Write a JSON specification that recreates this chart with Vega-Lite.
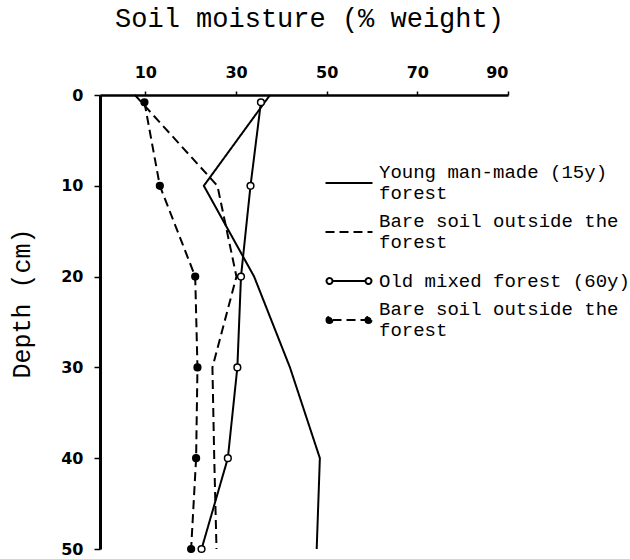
{
  "$schema": "https://vega.github.io/schema/vega-lite/v6.json",
  "autosize": {"type": "none"},
  "width": 408,
  "height": 454,
  "padding": {"left": 100, "top": 95, "right": 122, "bottom": 10},
  "background": "white",
  "config": {
    "view": {"stroke": null},
    "axis": {"grid": false, "domainColor": "black", "tickColor": "black", "labelColor": "black", "titleColor": "black"}
  },
  "data": {
    "values": [
      {"series": "young", "depth": 0, "moisture": 37.5},
      {"series": "young", "depth": 10, "moisture": 22.9},
      {"series": "young", "depth": 20, "moisture": 34.0},
      {"series": "young", "depth": 30, "moisture": 41.9},
      {"series": "young", "depth": 40, "moisture": 48.5},
      {"series": "young", "depth": 50, "moisture": 47.8},
      {"series": "bare1", "depth": 0, "moisture": 7.7},
      {"series": "bare1", "depth": 10, "moisture": 25.9},
      {"series": "bare1", "depth": 20, "moisture": 30.1},
      {"series": "bare1", "depth": 30, "moisture": 24.8},
      {"series": "bare1", "depth": 40, "moisture": 25.2},
      {"series": "bare1", "depth": 50, "moisture": 25.7},
      {"series": "old", "depth": 0.8, "moisture": 35.5},
      {"series": "old", "depth": 10, "moisture": 33.2},
      {"series": "old", "depth": 20, "moisture": 31.1},
      {"series": "old", "depth": 30, "moisture": 30.3},
      {"series": "old", "depth": 40, "moisture": 28.2},
      {"series": "old", "depth": 50, "moisture": 22.4},
      {"series": "bare2", "depth": 0.8, "moisture": 9.8},
      {"series": "bare2", "depth": 10, "moisture": 13.2},
      {"series": "bare2", "depth": 20, "moisture": 21.0},
      {"series": "bare2", "depth": 30, "moisture": 21.5},
      {"series": "bare2", "depth": 40, "moisture": 21.2},
      {"series": "bare2", "depth": 50, "moisture": 20.1}
    ]
  },
  "encoding": {
    "x": {
      "field": "moisture", "type": "quantitative",
      "scale": {"domain": [0, 90], "nice": false, "zero": false},
      "axis": {
        "orient": "top", "values": [10, 30, 50, 70, 90],
        "title": "Soil moisture (% weight)",
        "titleFont": "Liberation Mono", "titleFontSize": 27, "titleFontWeight": "normal",
        "titleX": 209, "titleY": -77, "titleBaseline": "middle",
        "labelFont": "DejaVu Sans", "labelFontSize": 16, "labelFontWeight": "bold", "labelPadding": 11,
        "tickSize": 4, "tickWidth": 1.5, "domainWidth": 2.5
      }
    },
    "y": {
      "field": "depth", "type": "quantitative",
      "scale": {"domain": [0, 50], "reverse": true, "nice": false, "zero": false},
      "axis": {
        "values": [0, 10, 20, 30, 40, 50],
        "title": "Depth (cm)",
        "titleFont": "Liberation Mono", "titleFontSize": 25, "titleFontWeight": "normal",
        "titleX": -79, "titleY": 208, "titleBaseline": "middle",
        "labelFont": "DejaVu Sans", "labelFontSize": 16, "labelFontWeight": "bold", "labelPadding": 11,
        "tickSize": 6, "tickWidth": 1.5, "domainWidth": 3
      }
    }
  },
  "layer": [
    {
      "mark": {"type": "line", "color": "black", "strokeWidth": 2},
      "encoding": {
        "order": {"field": "depth", "type": "quantitative"},
        "strokeDash": {
          "field": "series", "type": "nominal",
          "scale": {"domain": ["young", "bare1", "old", "bare2"], "range": [[1, 0], [9, 5], [1, 0], [9, 5]]},
          "legend": {
            "orient": "none", "legendX": 226, "legendY": 65,
            "title": null, "padding": 0, "rowPadding": 6, "symbolOffset": 0,
            "labelFont": "Liberation Mono", "labelFontSize": 19, "labelColor": "black",
            "labelBaseline": "middle", "labelOffset": 7, "labelLimit": 400, "labelLineHeight": 23,
            "symbolSize": 1936, "symbolStrokeWidth": 2, "symbolStrokeColor": "black",
            "labelExpr": "datum.value === 'young' ? ['Young man-made (15y)', 'forest'] : datum.value === 'old' ? 'Old mixed forest (60y)' : ['Bare soil outside the', 'forest']",
            "encode": {
              "labels": {
                "update": {
                  "dy": {"signal": "datum.value === 'old' ? 0 : -11.5"}
                }
              },
              "symbols": {
                "update": {
                  "shape": {"signal": "datum.value === 'old' || datum.value === 'bare2' ? 'M-0.75,0H0.75M-1.022,0a0.136,0.136 0 1,0 0.272,0a0.136,0.136 0 1,0 -0.272,0M0.75,0a0.136,0.136 0 1,0 0.272,0a0.136,0.136 0 1,0 -0.272,0' : 'M-1.068,0H1.068'"},
                  "fill": {"signal": "datum.value === 'old' ? 'white' : datum.value === 'bare2' ? 'black' : 'transparent'"},
                  "stroke": {"value": "black"},
                  "strokeWidth": {"value": 2},
                  "opacity": {"value": 1}
                }
              }
            }
          }
        }
      }
    },
    {
      "transform": [{"filter": "datum.series === 'old' || datum.series === 'bare2'"}],
      "mark": {"type": "point", "shape": "circle", "filled": true, "size": 45, "stroke": "black", "strokeWidth": 1.5, "opacity": 1},
      "encoding": {
        "fill": {"condition": {"test": "datum.series === 'bare2'", "value": "black"}, "value": "white"}
      }
    }
  ]
}
